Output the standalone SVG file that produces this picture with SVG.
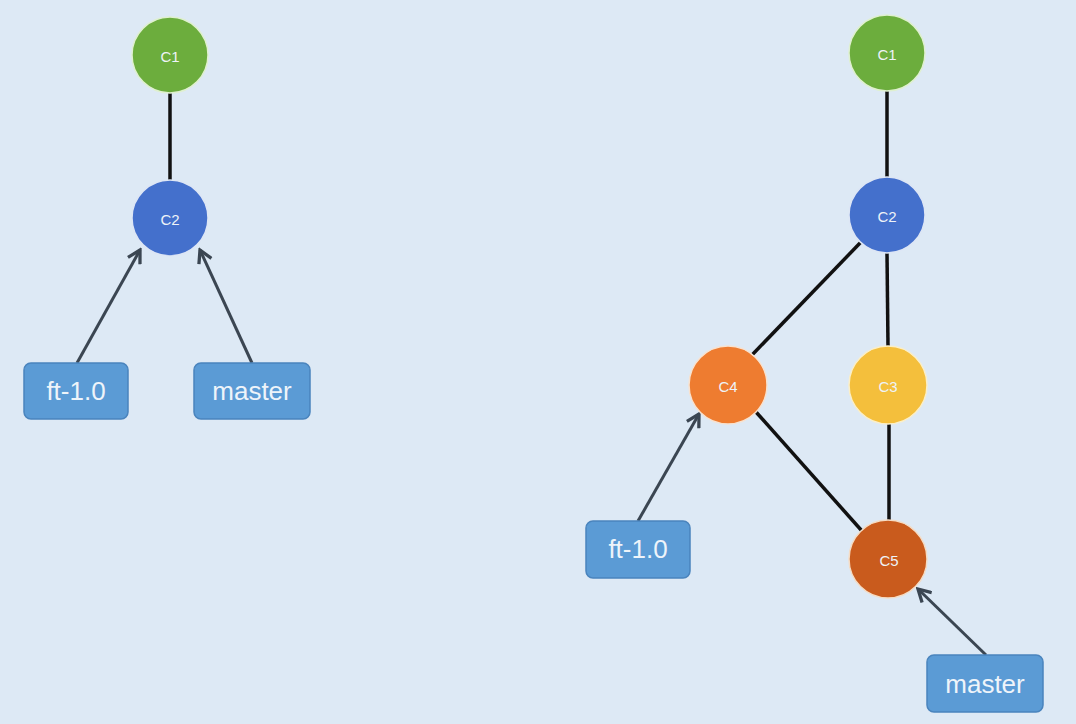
<svg xmlns="http://www.w3.org/2000/svg" width="1076" height="724" viewBox="0 0 1076 724">
<defs>
<style>
.bg{fill:#dde9f5}
.edge{stroke:#111;stroke-width:3.5;fill:none}
.ptr{stroke:#3b4652;stroke-width:3;fill:none;marker-end:url(#ah)}
.node text{font-family:"Liberation Sans",Arial,sans-serif;font-size:15px;fill:#eef3f8;text-anchor:middle;dominant-baseline:central}
.box rect{fill:#5b9bd5;stroke:#4a84bd;stroke-width:1.5}
.box text{font-family:"Liberation Sans",Arial,sans-serif;font-size:26px;fill:#eef4fa;text-anchor:middle;dominant-baseline:central}
.g{fill:#6cad3d;stroke:#dff0cf;stroke-width:1.5}
.b{fill:#4470cc;stroke:#dde6f5;stroke-width:1.5}
.o{fill:#ee7c30;stroke:#f8e2cf;stroke-width:1.5}
.y{fill:#f4bf3c;stroke:#fbefc8;stroke-width:1.5}
.r{fill:#c95b1d;stroke:#f5dcc4;stroke-width:1.5}
</style>
<marker id="ah" viewBox="0 0 12 12" refX="10" refY="6" markerWidth="5.5" markerHeight="5.5" orient="auto" markerUnits="strokeWidth">
<path d="M1,1 L10,6 L1,11" fill="none" stroke="#3b4652" stroke-width="2.4"/>
</marker>
</defs>
<rect class="bg" x="0" y="0" width="1076" height="724"/>
<g id="connectors">
<line class="edge" x1="170" y1="93" x2="170" y2="180"/>
<line class="ptr" x1="77" y1="363" x2="140" y2="250"/>
<line class="ptr" x1="252" y1="363" x2="200" y2="250"/>
<line class="edge" x1="887" y1="91" x2="887" y2="177"/>
<line class="edge" x1="861" y1="242" x2="752" y2="355"/>
<line class="edge" x1="887" y1="253" x2="888" y2="346"/>
<line class="edge" x1="889" y1="424" x2="889" y2="520"/>
<line class="edge" x1="756" y1="412" x2="862" y2="531"/>
<line class="ptr" x1="638" y1="521" x2="699" y2="414"/>
<line class="ptr" x1="986" y1="655" x2="918" y2="589"/>
</g>
<g id="L_C1" class="node"><circle class="g" cx="170" cy="55" r="38"/><text x="170" y="56">C1</text></g>
<g id="L_C2" class="node"><circle class="b" cx="170" cy="218" r="38"/><text x="170" y="219">C2</text></g>
<g id="L_ft" class="box"><rect x="24" y="363" width="104" height="56" rx="7"/><text x="76" y="391">ft-1.0</text></g>
<g id="L_master" class="box"><rect x="194" y="363" width="116" height="56" rx="7"/><text x="252" y="391">master</text></g>
<g id="R_C1" class="node"><circle class="g" cx="887" cy="53" r="38"/><text x="887" y="54">C1</text></g>
<g id="R_C2" class="node"><circle class="b" cx="887" cy="215" r="38"/><text x="887" y="216">C2</text></g>
<g id="R_C4" class="node"><circle class="o" cx="728" cy="385" r="39"/><text x="728" y="386">C4</text></g>
<g id="R_C3" class="node"><circle class="y" cx="888" cy="385" r="39"/><text x="888" y="386">C3</text></g>
<g id="R_C5" class="node"><circle class="r" cx="888" cy="559" r="39"/><text x="889" y="560">C5</text></g>
<g id="R_ft" class="box"><rect x="586" y="521" width="104" height="57" rx="7"/><text x="638" y="549">ft-1.0</text></g>
<g id="R_master" class="box"><rect x="927" y="655" width="116" height="57" rx="7"/><text x="985" y="684">master</text></g>
</svg>
